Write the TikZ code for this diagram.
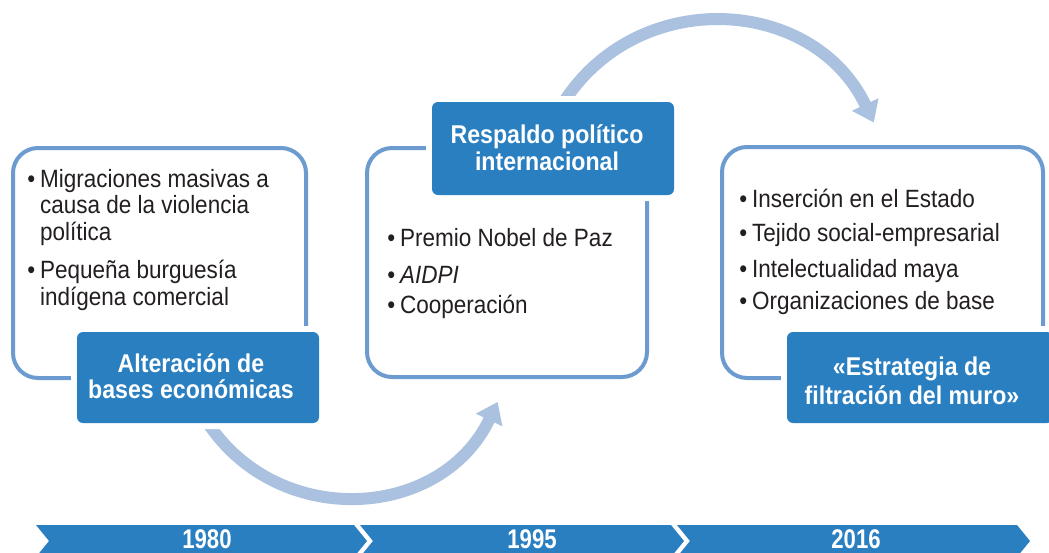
\documentclass[tikz,border=0pt]{standalone}
\usepackage{fontspec}
\setmainfont{Liberation Sans}[FakeStretch=0.9]
\newfontfamily\yearfont{Liberation Sans}[FakeStretch=0.82]
\usetikzlibrary{arrows.meta}
\definecolor{darkblue}{HTML}{2A7FC1}
\definecolor{lineblue}{HTML}{6C9BD0}
\definecolor{arrowblue}{HTML}{AAC2DF}
\definecolor{txt}{HTML}{231F20}
\pgfdeclarelayer{bg}
\pgfsetlayers{bg,main}
\newcommand\bul{\llap{\textbullet\hspace{5pt}}}
\begin{document}
\begin{tikzpicture}[x=1pt,y=-1pt,
  outerbox/.style={draw=lineblue, line width=4pt, rounded corners=25pt, fill=white, inner sep=0pt},
  darkbox/.style={fill=darkblue, rounded corners=6pt, preaction={draw=white, line width=12pt}, inner sep=0pt},
  title/.style={text=white, font=\bfseries\fontsize{25.7}{#1}\selectfont, align=center, anchor=base, inner sep=0pt},
  item/.style={text=txt, font=\fontsize{25}{26.5}\selectfont, align=left, anchor=base west, inner sep=0pt},
  flow/.style={draw=arrowblue, line width=12pt, -{Triangle[width=28pt,length=20pt]}},
  chevron/.style={fill=darkblue},
  year/.style={text=white, font=\yearfont\bfseries\fontsize{27}{27}\selectfont, anchor=base, inner sep=0pt}
]
\useasboundingbox (0,0) rectangle (1049,552);

% outer boxes
\node[outerbox, minimum width=293pt, minimum height=230pt] (b1) at (159.5,263) {};
\node[outerbox, minimum width=280pt, minimum height=229pt] (b2) at (507,262.5) {};
\node[outerbox, minimum width=321pt, minimum height=231pt] (b3) at (882.5,262.5) {};

% dark title boxes
\node[darkbox, minimum width=242pt, minimum height=91pt] (d1) at (198,377.5) {};
\node[darkbox, minimum width=242pt, minimum height=93pt] (d2) at (553,148.5) {};
\node[darkbox, minimum width=266pt, minimum height=91pt] (d3) at (920,377.5) {};

% titles (base anchor = last line)
\node[title=26pt] (t1) at (191,398) {Alteración de\\bases económicas};
\node[title=27pt] (t2) at (547,170) {Respaldo político\\internacional};
\node[title=28.5pt] (t3) at (912,404) {«Estrategia de\\filtración del muro»};

% bullet items (base anchor = last line)
\node[item] (i11) at (40,240) {\bul Migraciones masivas a\\causa de la violencia\\política};
\node[item] (i12) at (40,305) {\bul Pequeña burguesía\\indígena comercial};

\node[item] (i21) at (400,246) {\bul Premio Nobel de Paz};
\node[item] (i22) at (400,283) {\bul \textit{AIDPI}};
\node[item] (i23) at (400,313) {\bul Cooperación};

\node[item] (i31) at (752,207) {\bul Inserción en el Estado};
\node[item] (i32) at (752,241) {\bul Tejido social-empresarial};
\node[item] (i33) at (752,277) {\bul Intelectualidad maya};
\node[item] (i34) at (752,309) {\bul Organizaciones de base};

% flow arrows (behind the boxes)
\coordinate (a1s) at ([shift={(5,-8)}]d1.south);
\coordinate (a1e) at (497.7,401.9);
\coordinate (a2s) at ([shift={(9,3)}]d2.north);
\coordinate (a2e) at (873.8,122.6);
\begin{pgfonlayer}{bg}
\draw[flow] (a1s) .. controls (271.1,530.2) and (440,522.7) .. (a1e);
\draw[flow] (a2s) .. controls (636.3,-14.7) and (813.4,-4.6) .. (a2e);
\end{pgfonlayer}

% timeline
\fill[chevron] (36,525) -- (354,525) -- (367,541) -- (354,557) -- (36,557) -- (49,541) -- cycle;
\fill[chevron] (360,525) -- (671,525) -- (684,541) -- (671,557) -- (360,557) -- (373,541) -- cycle;
\fill[chevron] (677,525) -- (1017,525) -- (1030,541) -- (1017,557) -- (677,557) -- (690,541) -- cycle;
\node[year] (y1) at (207,548.5) {1980};
\node[year] (y2) at (532,548.5) {1995};
\node[year] (y3) at (856,548.5) {2016};
\end{tikzpicture}
\end{document}
